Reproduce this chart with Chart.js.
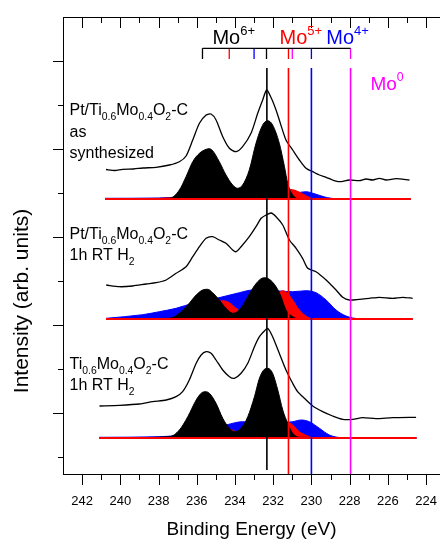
<!DOCTYPE html>
<html>
<head>
<meta charset="utf-8">
<script src="https://cdn.jsdelivr.net/npm/chart.js@4.4.1/dist/chart.umd.min.js"></script>
<style>
html, body { margin: 0; padding: 0; background: #fff; }
#wrap { width: 440px; height: 541px; }
</style>
</head>
<body>
<div id="wrap"><canvas id="xps" width="440" height="541"></canvas></div>
<script>
const FONT = '"Liberation Sans", Arial, sans-serif';

// axis ticks (binding energy in eV, intensity in arb. units)
const xTickValues = [242, 240, 238, 236, 234, 232, 230, 228, 226, 224];
const xMinorValues = [241, 239, 237, 235, 233, 231, 229, 227, 225];
const yMajorValues = [61, 149, 237, 325, 413];
const yMinorValues = [17, 105, 193, 281, 369];

// reference positions of Mo 3d5/2 states
const markerE = [232.33, 231.2, 230.0, 227.95];
const markerColors = ['#000000', '#ff0000', '#0000ff', '#ff00ff'];
// doublet bracket at the top
const bracketE = [235.7, 234.3, 233.0, 232.35, 231.2, 231.0, 230.0, 227.95];
const bracketColors = ['#000000', '#ff0000', '#0000ff', '#000000', '#ff0000', '#ff00ff', '#0000ff', '#ff00ff'];

// panel 1: Pt/Ti0.6Mo0.4O2-C as synthesized
const p1Base = 275;
const p1RawE = [240.75, 240.3, 239.88, 239.3, 238.83, 238.13, 237.43, 236.91, 236.56, 236.21, 235.86, 235.51, 235.25, 234.99, 234.64, 234.29, 233.94, 233.60, 233.16, 232.81, 232.55, 232.34, 232.1, 231.85, 231.68, 231.33, 230.98, 230.63, 230.28, 229.93, 229.58, 229.23, 228.89, 228.53, 228.01, 227.49, 227.14, 226.79, 226.44, 226.09, 225.57, 224.87];
const p1RawI = [304.5, 303.5, 304.7, 305, 306, 306.7, 309, 312.3, 318, 334, 350.7, 359, 360, 354, 337.3, 325.7, 322.3, 327.3, 340.7, 360.7, 374, 384, 376, 364, 354, 334, 324, 314, 305.7, 302.3, 299, 296.7, 294, 292.3, 294, 293.3, 295, 294, 295.7, 294, 295.3, 294];
const p1BlackE = [240.8, 237.43, 236.91, 236.56, 236.21, 235.86, 235.51, 235.34, 235.17, 234.82, 234.47, 234.12, 233.86, 233.60, 233.25, 232.90, 232.55, 232.29, 232.03, 231.68, 231.41, 231.24, 230.98, 230.63, 224.8];
const p1BlackI = [275, 275.7, 284, 297.3, 312.3, 320.7, 324.7, 325.3, 323.3, 312.3, 299, 289, 285.7, 289, 304, 330.7, 349, 353.3, 349, 330.7, 307.3, 290.7, 279, 275, 275];
const p1RedE = [240.8, 237.09, 236.21, 235.34, 234.64, 234.12, 233.60, 233.07, 232.38, 231.85, 231.50, 231.15, 230.80, 230.45, 230.11, 229.76, 224.8];
const p1RedI = [275, 276.3, 278, 279.3, 280.3, 280.7, 278.7, 276, 275.3, 279, 283.3, 284.7, 283.3, 280, 276.7, 275, 275];
const p1BlueE = [240.8, 238, 236.5, 235, 233.5, 232.5, 231.5, 230.8, 230.3, 229.8, 229.3, 228.7, 224.8];
const p1BlueI = [275.7, 276, 277.5, 279.5, 280.5, 279, 279, 281, 282.3, 280, 277, 275.3, 275];

// panel 2: Pt/Ti0.6Mo0.4O2-C 1h RT H2
const p2Base = 155;
const p2RawE = [240.74, 240.05, 239.35, 238.65, 238.13, 237.60, 237.08, 236.56, 236.21, 235.86, 235.51, 235.17, 234.82, 234.47, 234.12, 233.94, 233.68, 233.25, 232.90, 232.63, 232.37, 232.11, 231.85, 231.50, 231.15, 230.80, 230.46, 230.19, 229.76, 229.23, 228.71, 228.36, 228.01, 227.49, 226.97, 226.44, 225.75, 225.22, 224.70];
const p2RawI = [189, 187.3, 188, 190, 191.3, 194, 200.7, 207.3, 217.3, 227.3, 235.7, 237.3, 234, 230.7, 224, 222.3, 227.3, 237.3, 247.3, 255.7, 259, 261, 257.3, 249, 234, 225.7, 215.7, 205.7, 202.3, 194, 184, 176.7, 174, 174.7, 175.7, 176.7, 175.7, 176.7, 175.7];
const p2BlackE = [240.75, 237.43, 236.91, 236.47, 236.03, 235.69, 235.43, 235.17, 234.82, 234.47, 234.12, 233.77, 233.42, 233.07, 232.72, 232.46, 232.20, 231.85, 231.59, 231.33, 230.98, 230.63, 224.7];
const p2BlackI = [155, 155.7, 160.7, 169, 179, 184, 184.7, 181.3, 174, 165.7, 160.7, 164, 174, 185.7, 194, 196.3, 194.7, 187.3, 177.3, 164, 157.3, 155, 155];
const p2RedE = [240.75, 236.56, 235.86, 235.34, 234.99, 234.64, 234.29, 233.94, 233.42, 232.90, 232.37, 232.03, 231.76, 231.50, 231.24, 230.98, 230.63, 230.28, 229.93, 224.7];
const p2RedI = [155, 155.7, 159, 164.7, 170.7, 173.3, 171.3, 165.7, 159, 156.7, 158, 167.3, 179, 183.3, 180.7, 174, 164, 158, 155.3, 155];
const p2BlueE = [240.74, 238.83, 237.96, 237.08, 236.21, 235.34, 234.47, 233.77, 233.07, 232.37, 231.68, 230.98, 230.28, 229.76, 229.23, 228.71, 228.19, 227.49, 224.7];
const p2BlueI = [155.7, 159.3, 162.3, 165.7, 170.7, 174, 178, 181.3, 184, 184, 183, 182.3, 183.3, 181.3, 174, 164, 158, 155.3, 155];

// panel 3: Ti0.6Mo0.4O2-C 1h RT H2
const p3Base = 36;
const p3RawE = [241.09, 240.05, 239.00, 238.31, 237.60, 237.08, 236.74, 236.39, 236.03, 235.77, 235.51, 235.25, 234.99, 234.64, 234.29, 234.03, 233.68, 233.33, 232.98, 232.72, 232.46, 232.29, 232.03, 231.68, 231.33, 230.98, 230.72, 230.37, 229.93, 229.41, 228.89, 228.36, 227.84, 227.32, 226.62, 225.75, 224.52];
const p3RawI = [68, 68.7, 70, 72.3, 74, 77.3, 82.3, 94, 110.7, 119, 122.3, 120.7, 114, 104, 97.3, 95.7, 100.7, 110.7, 127.3, 137.3, 143, 145.7, 137.3, 120.7, 104, 90.7, 82.3, 75.7, 68, 62.3, 58, 54.7, 54.7, 56.3, 55.3, 56.3, 56.7];
const p3BlackE = [241.1, 237.43, 236.91, 236.47, 236.03, 235.77, 235.56, 235.34, 234.99, 234.64, 234.29, 234.03, 233.68, 233.33, 232.98, 232.72, 232.46, 232.29, 232.03, 231.76, 231.50, 231.24, 230.98, 230.63, 224.5];
const p3BlackI = [36, 37.3, 44, 57.3, 74, 80.7, 82.3, 80.7, 70.7, 55.7, 45.7, 42.3, 45.7, 57.3, 77.3, 95.7, 104.7, 105.7, 100.7, 84, 64, 50.7, 40.7, 36.7, 36];
const p3RedE = [241.1, 237.08, 235.86, 235.17, 234.64, 234.29, 233.77, 233.07, 232.37, 232.03, 231.68, 231.33, 230.98, 230.63, 230.19, 229.76, 224.5];
const p3RedI = [36, 36.7, 39, 42.3, 45.7, 45, 40.7, 38, 38.7, 44, 50, 52.3, 49, 42.3, 38, 36, 36];
const p3BlueE = [241.1, 237.96, 236.21, 234.47, 233.60, 232.72, 231.68, 230.98, 230.54, 230.11, 229.58, 229.06, 228.36, 224.5];
const p3BlueI = [36.7, 37.3, 40.7, 49, 52.3, 51.3, 51.3, 52.3, 54, 52.3, 45.7, 39, 36.3, 36];

const baselineE = [[240.8, 224.8], [240.75, 224.7], [241.1, 224.5]];

function pts(es, is) {
    return es.map((e, k) => ({ x: e, y: is[k] }));
}

function seg(x1, y1, x2, y2, color, width, order) {
    return {
        data: [{ x: x1, y: y1 }, { x: x2, y: y2 }],
        borderColor: color, borderWidth: width, order: order, tension: 0
    };
}

function area(es, is, base, color, order) {
    return {
        data: pts(es, is), borderColor: color, backgroundColor: color, borderWidth: 1,
        fill: { value: base }, cubicInterpolationMode: 'monotone', order: order
    };
}

function rawLine(es, is) {
    return { data: pts(es, is), borderColor: '#000', borderWidth: 1.3, tension: 0.25, order: 1 };
}

const datasets = [];
// vertical marker lines
markerE.forEach((e, k) => {
    datasets.push(seg(e, 406, e, k === 0 ? 4 : 0, markerColors[k], 1.6, 0));
});
// bracket
datasets.push(seg(bracketE[0], 425.7, bracketE[bracketE.length - 1], 425.7, '#000', 1.3, 0));
bracketE.forEach((e, k) => datasets.push(seg(e, 425.7, e, 415, bracketColors[k], 1.3, 0)));

const panels = [
    [p1Base, p1RawE, p1RawI, p1BlackE, p1BlackI, p1RedE, p1RedI, p1BlueE, p1BlueI],
    [p2Base, p2RawE, p2RawI, p2BlackE, p2BlackI, p2RedE, p2RedI, p2BlueE, p2BlueI],
    [p3Base, p3RawE, p3RawI, p3BlackE, p3BlackI, p3RedE, p3RedI, p3BlueE, p3BlueI]
];
panels.forEach((p, k) => {
    const [base, rE, rI, bE, bI, reE, reI, blE, blI] = p;
    datasets.push(rawLine(rE, rI));
    datasets.push(seg(baselineE[k][0], base, baselineE[k][1], base, '#ff0000', 2, 2));
    datasets.push(area(bE, bI, base, '#000000', 3));
    datasets.push(area(reE, reI, base, '#ff0000', 4));
    datasets.push(area(blE, blI, base, '#0000ff', 5));
});

// text annotations: [energy, intensity, line parts]
const sampleLabels = [
    [242.66, 359, [
        [['Pt/Ti', ''], ['0.6', 'sub'], ['Mo', ''], ['0.4', 'sub'], ['O', ''], ['2', 'sub'], ['-C', '']],
        [['as', '']],
        [['synthesized', '']]
    ]],
    [242.66, 235.5, [
        [['Pt/Ti', ''], ['0.6', 'sub'], ['Mo', ''], ['0.4', 'sub'], ['O', ''], ['2', 'sub'], ['-C', '']],
        [['1h RT H', ''], ['2', 'sub']]
    ]],
    [242.66, 105.5, [
        [['Ti', ''], ['0.6', 'sub'], ['Mo', ''], ['0.4', 'sub'], ['O', ''], ['2', 'sub'], ['-C', '']],
        [['1h RT H', ''], ['2', 'sub']]
    ]]
];
const stateLabels = [
    [235.18, 430, '6+', '#000000', 20],
    [231.67, 430, '5+', '#ff0000', 20],
    [229.22, 430, '4+', '#0000ff', 20],
    [226.91, 384, '0', '#ff00ff', 19]
];

function drawRich(ctx, parts, x, y, size, color) {
    ctx.fillStyle = color;
    ctx.textAlign = 'left';
    ctx.textBaseline = 'alphabetic';
    let cx = x;
    parts.forEach(([t, kind]) => {
        const s = kind ? size * 0.65 : size;
        ctx.font = s + 'px ' + FONT;
        const dy = kind === 'sub' ? size * 0.33 : kind === 'sup' ? -size * 0.45 : 0;
        ctx.fillText(t, cx, y + dy);
        cx += ctx.measureText(t).width;
    });
}

const decor = {
    id: 'decor',
    afterDraw(chart) {
        const ctx = chart.ctx;
        const xs = chart.scales.x, ys = chart.scales.y;
        const area = chart.chartArea;
        ctx.save();
        ctx.strokeStyle = '#000';
        ctx.lineWidth = 1;
        // top frame line
        ctx.beginPath();
        ctx.moveTo(area.left, area.top + 0.5);
        ctx.lineTo(area.right, area.top + 0.5);
        ctx.stroke();
        // x ticks bottom (outward) and top (inward)
        const xt = (v, len) => {
            const px = Math.round(xs.getPixelForValue(v)) + 0.5;
            ctx.beginPath();
            ctx.moveTo(px, area.bottom); ctx.lineTo(px, area.bottom + len);
            ctx.moveTo(px, area.top); ctx.lineTo(px, area.top + len);
            ctx.stroke();
        };
        xTickValues.forEach(v => xt(v, 11));
        xMinorValues.forEach(v => xt(v, 6));
        // x tick labels
        ctx.fillStyle = '#000';
        ctx.font = '13px ' + FONT;
        ctx.textAlign = 'center';
        ctx.textBaseline = 'alphabetic';
        xTickValues.forEach(v => ctx.fillText(String(v), xs.getPixelForValue(v), area.bottom + 31));
        // y ticks (outward)
        const yt = (v, len) => {
            const py = Math.round(ys.getPixelForValue(v)) + 0.5;
            ctx.beginPath();
            ctx.moveTo(area.left, py); ctx.lineTo(area.left - len, py);
            ctx.stroke();
        };
        yMajorValues.forEach(v => yt(v, 10));
        yMinorValues.forEach(v => yt(v, 5));

        // sample names
        sampleLabels.forEach(([e, i, lines]) => {
            const x = xs.getPixelForValue(e), y = ys.getPixelForValue(i);
            lines.forEach((parts, k) => drawRich(ctx, parts, x, y + k * 21.5, 16, '#000'));
        });
        // oxidation states
        stateLabels.forEach(([e, i, sup, color, size]) => {
            drawRich(ctx, [['Mo', ''], [sup, 'sup']], xs.getPixelForValue(e), ys.getPixelForValue(i), size, color);
        });

        // y axis title
        ctx.translate(22, 301);
        ctx.rotate(-Math.PI / 2);
        ctx.fillStyle = '#000';
        ctx.font = '21px ' + FONT;
        ctx.textAlign = 'center';
        ctx.textBaseline = 'middle';
        ctx.fillText('Intensity (arb. units)', 0, 0);
        ctx.restore();
    }
};

new Chart(document.getElementById('xps'), {
    type: 'line',
    data: { datasets: datasets },
    options: {
        responsive: false,
        animation: false,
        devicePixelRatio: 1,
        layout: { padding: { top: 17, right: 0, left: 0, bottom: 0 } },
        elements: { point: { radius: 0, hoverRadius: 0 } },
        plugins: { legend: { display: false }, tooltip: { enabled: false } },
        scales: {
            x: {
                type: 'linear',
                reverse: true,
                min: 223.27,
                max: 243,
                grid: { display: false, drawTicks: false },
                border: { display: true, color: '#000', width: 1 },
                afterBuildTicks: (scale) => { scale.ticks = xTickValues.map(v => ({ value: v })); },
                afterFit: (scale) => { scale.height = 67; },
                ticks: { display: false },
                title: {
                    display: true, text: 'Binding Energy (eV)', color: '#000',
                    font: { family: FONT, size: 19 }, padding: { top: 0, bottom: 0 }
                }
            },
            y: {
                type: 'linear',
                min: 0,
                max: 457,
                grid: { display: false, drawTicks: false },
                border: { display: true, color: '#000', width: 1 },
                ticks: { display: false },
                afterFit: (scale) => { scale.width = 63; }
            }
        }
    },
    plugins: [decor]
});
</script>
</body>
</html>
